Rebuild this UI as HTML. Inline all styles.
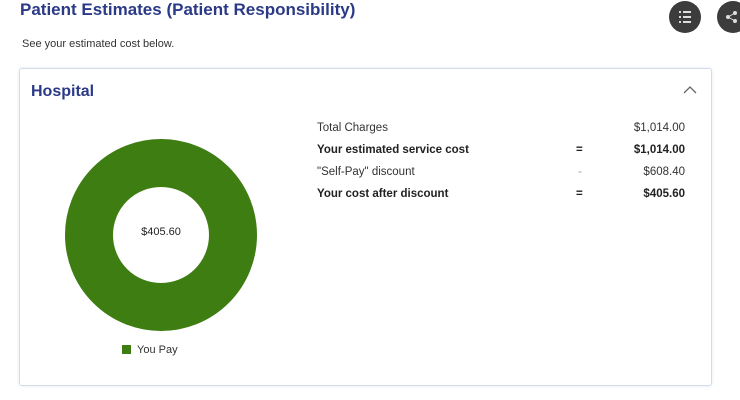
<!DOCTYPE html>
<html><head><style>
body{margin:0;width:740px;height:400px;background:#fff;font-family:"Liberation Sans",sans-serif;position:relative;overflow:hidden}
.a{position:absolute}
.t{left:20px;top:0px;font-size:17px;font-weight:bold;color:#2b3a86}
.s{left:22px;top:38px;font-size:11px;color:#333}
.card{left:19px;top:68px;width:691px;height:316px;border:1px solid #d4dcea;border-radius:3px;box-shadow:0 0 3px #e3e8f2}
.h{left:31px;top:83px;font-size:16px;font-weight:bold;color:#2b3a86}
.r{font-size:11.5px;color:#333}
.b{font-weight:bold;color:#222}
.ic{width:32px;height:32px;border-radius:50%;background:#3c3c3c;top:1px}
</style></head><body>
<div class="a t">Patient Estimates (Patient Responsibility)</div>
<div class="a s">See your estimated cost below.</div>
<div class="a ic" style="left:669px"><svg width="32" height="32"><g fill="#ddd"><rect x="10" y="10" width="2" height="2"/><rect x="14" y="10" width="8" height="2"/><rect x="10" y="15" width="2" height="2"/><rect x="14" y="15" width="8" height="2"/><rect x="10" y="20" width="2" height="2"/><rect x="14" y="20" width="8" height="2"/></g></svg></div>
<div class="a ic" style="left:717px"><svg width="32" height="32"><g fill="#ddd"><circle cx="11" cy="16" r="2"/><circle cx="18" cy="12" r="2"/><circle cx="18" cy="20" r="2"/></g><path d="M11 16L18 12M11 16L18 20" stroke="#ddd"/></svg></div>
<div class="a card"></div>
<div class="a h">Hospital</div>
<svg class="a" style="left:682px;top:84px" width="16" height="12"><path d="M2 9L8 3L14 9" stroke="#666" stroke-width="1.3" fill="none"/></svg>
<svg class="a" style="left:60px;top:134px" width="200" height="200"><circle cx="101" cy="101" r="72" fill="none" stroke="#3d7d12" stroke-width="48"/></svg>
<div class="a" style="left:120px;top:226px;width:82px;text-align:center;font-size:11px;color:#222">$405.60</div>
<div class="a" style="left:122px;top:345px;width:9px;height:9px;background:#3d7d12"></div>
<div class="a" style="left:137px;top:344px;font-size:11px;color:#333">You Pay</div>
<div class="a r" style="left:317px;top:122px">Total Charges</div>
<div class="a r" style="left:600px;top:122px;width:85px;text-align:right">$1,014.00</div>
<div class="a r b" style="left:317px;top:144px">Your estimated service cost</div>
<div class="a r b" style="left:576px;top:144px">=</div>
<div class="a r b" style="left:600px;top:144px;width:85px;text-align:right">$1,014.00</div>
<div class="a r" style="left:317px;top:166px">"Self-Pay" discount</div>
<div class="a r" style="left:578px;top:166px;color:#999">-</div>
<div class="a r" style="left:600px;top:166px;width:85px;text-align:right">$608.40</div>
<div class="a r b" style="left:317px;top:188px">Your cost after discount</div>
<div class="a r b" style="left:576px;top:188px">=</div>
<div class="a r b" style="left:600px;top:188px;width:85px;text-align:right">$405.60</div>
</body></html>
